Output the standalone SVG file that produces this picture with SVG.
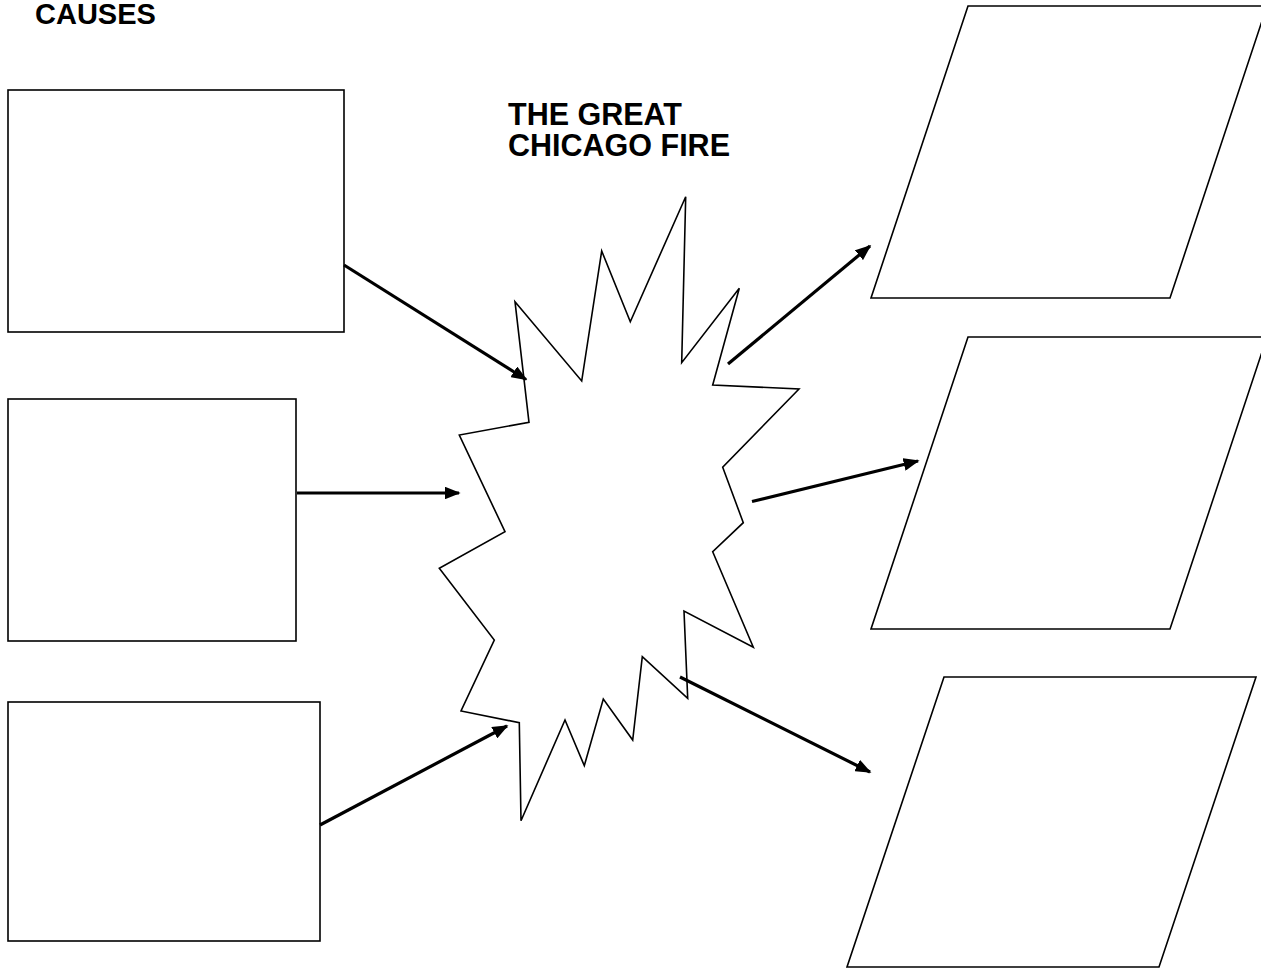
<svg xmlns="http://www.w3.org/2000/svg" width="1261" height="968" viewBox="0 0 1261 968">
<style>
.box{fill:#fff;stroke:#000;stroke-width:1.6}
.conn{stroke:#000;stroke-width:3.2;fill:none}
.t{font-family:"Liberation Sans",Arial,sans-serif;font-weight:bold;fill:#000}
</style>
<defs>
<marker id="ah" viewBox="0 0 10 8" refX="9" refY="4" markerWidth="5" markerHeight="4" markerUnits="strokeWidth" orient="auto">
<path d="M0,0 L10,4 L0,8 z" fill="#000"/>
</marker>
</defs>
<rect width="1261" height="968" fill="#fff"/>
<text class="t" x="35" y="24" font-size="29">CAUSES</text>
<g id="cause1"><rect class="box" x="8" y="90" width="336" height="242"/></g>
<g id="cause2"><rect class="box" x="8" y="399" width="288" height="242"/></g>
<g id="cause3"><rect class="box" x="8" y="702" width="312" height="239"/></g>
<g id="fire">
<polygon class="box" points="515,301.7 581.7,381 601.7,251 630.3,321.7 685.7,196.7 681.7,362.7 739.3,288.3 712.7,385 799,389 722.7,467.3 743.3,522.7 712.7,551.7 753.3,647.3 684,611 687.7,698.3 642.3,656.7 632.7,740 603.3,699 584.3,765.7 565,720 521,820.7 519.3,722.7 461,711 494.3,640 439.3,568.3 505,531.7 459.3,435 529,422.3"/>
<text class="t" x="508" y="125" font-size="30.5">THE GREAT</text>
<text class="t" x="508" y="156" font-size="30.5">CHICAGO FIRE</text>
</g>
<g id="effect1"><polygon class="box" points="968,6 1267,6 1170,298 871,298"/></g>
<g id="effect2"><polygon class="box" points="968,337 1267,337 1170,629 871,629"/></g>
<g id="effect3"><polygon class="box" points="944,677 1256,677 1159,967 847,967"/></g>
<g id="connectors">
<line class="conn" x1="344" y1="265" x2="526" y2="379.5" marker-end="url(#ah)"/>
<line class="conn" x1="297" y1="493" x2="459" y2="493" marker-end="url(#ah)"/>
<line class="conn" x1="320" y1="825" x2="507" y2="726" marker-end="url(#ah)"/>
<line class="conn" x1="728" y1="364" x2="870" y2="246" marker-end="url(#ah)"/>
<line class="conn" x1="752" y1="501.5" x2="918" y2="461" marker-end="url(#ah)"/>
<line class="conn" x1="680" y1="677" x2="870" y2="772" marker-end="url(#ah)"/>
</g>
</svg>
